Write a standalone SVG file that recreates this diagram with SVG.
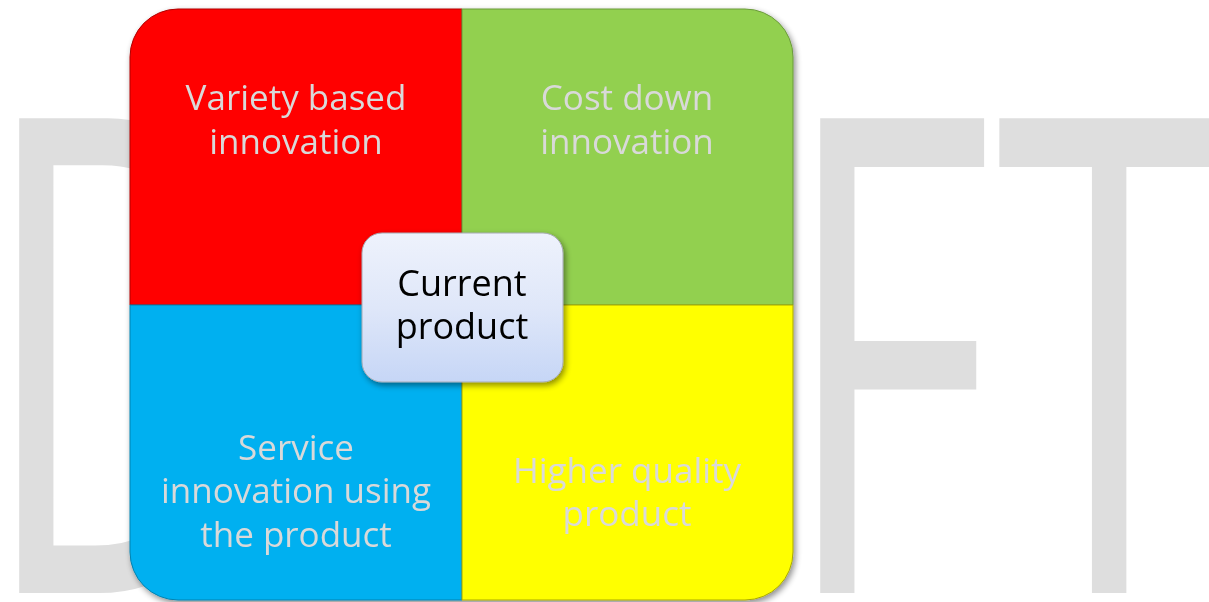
<svg xmlns="http://www.w3.org/2000/svg" width="1209" height="602" viewBox="0 0 1209 602">
  <defs>
    <filter id="shadow" x="-10%" y="-10%" width="125%" height="125%">
      <feGaussianBlur in="SourceAlpha" stdDeviation="3"/>
      <feOffset dx="2" dy="3" result="b"/>
      <feComponentTransfer><feFuncA type="linear" slope="0.45"/></feComponentTransfer>
      <feMerge><feMergeNode/><feMergeNode in="SourceGraphic"/></feMerge>
    </filter>
    <linearGradient id="centerFill" x1="0" y1="0" x2="0" y2="1">
      <stop offset="0" stop-color="#eef2fc"/>
      <stop offset="0.5" stop-color="#dfe7f9"/>
      <stop offset="1" stop-color="#c6d6f6"/>
    </linearGradient>
    <style>
      .wm { font-family: "Open Sans", "Liberation Sans", sans-serif; font-size: 665px; fill: #dedede; }
      .lbl { font-family: "Open Sans", "Noto Sans", sans-serif; font-size: 35px; fill: #d9d9d9; text-anchor: middle; }
      .ctr { font-family: "Open Sans", "Noto Sans", sans-serif; font-size: 36px; fill: #000000; text-anchor: middle; }
    </style>
  </defs>

  <!-- watermark -->
  <text class="wm" transform="scale(0.62,1)" y="593" x="-34 420 760 1258 1606">DRAFT</text>

  <g id="quadrants" filter="url(#shadow)">
    <g id="q-variety">
      <path d="M130,305 V57 A48,48 0 0 1 178,9 H462 V305 Z" fill="#ff0000" stroke="#b00000" stroke-width="1"/>
      <text class="lbl" x="296" y="110">Variety based</text>
      <text class="lbl" x="296" y="154">innovation</text>
    </g>
    <g id="q-cost">
      <path d="M462,9 H745 A48,48 0 0 1 793,57 V305 H462 Z" fill="#92d050" stroke="#6b9a3a" stroke-width="1"/>
      <text class="lbl" x="627" y="110">Cost down</text>
      <text class="lbl" x="627" y="154">innovation</text>
    </g>
    <g id="q-service">
      <path d="M130,305 H462 V600 H178 A48,48 0 0 1 130,552 Z" fill="#00b0f0" stroke="#0082b0" stroke-width="1"/>
      <text class="lbl" x="296" y="460">Service</text>
      <text class="lbl" x="296" y="503">innovation using</text>
      <text class="lbl" x="296" y="547">the product</text>
    </g>
    <g id="q-quality">
      <path d="M462,305 H793 V552 A48,48 0 0 1 745,600 H462 Z" fill="#ffff00" stroke="#a8a800" stroke-width="1"/>
      <text class="lbl" x="627" y="483">Higher quality</text>
      <text class="lbl" x="627" y="526">product</text>
    </g>
  </g>

  <g id="connectors"></g>

  <g id="center" filter="url(#shadow)">
    <rect x="362" y="233" width="201" height="149" rx="20" ry="20" fill="url(#centerFill)" stroke="#a6aab4" stroke-width="1"/>
    <text class="ctr" x="462" y="296">Current</text>
    <text class="ctr" x="462" y="339">product</text>
  </g>
</svg>
